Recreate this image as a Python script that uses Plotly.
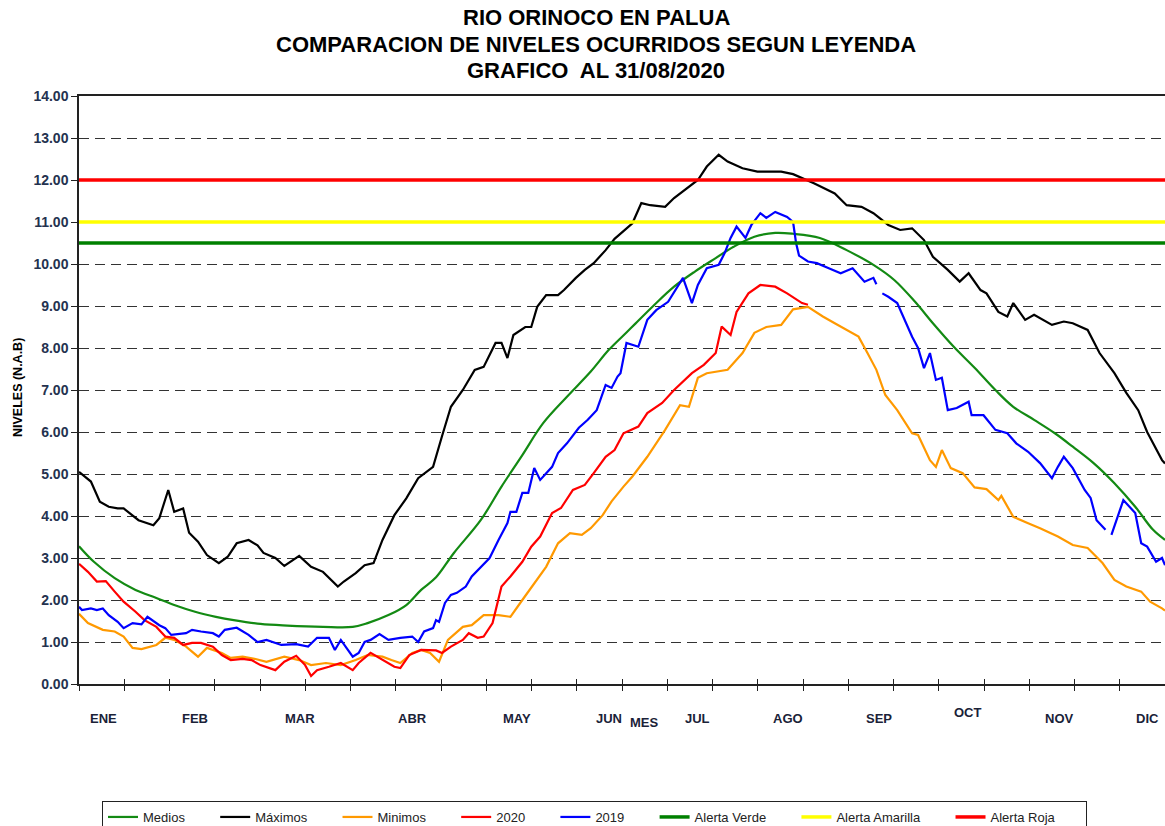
import plotly.graph_objects as go

# ---------------- data ----------------
medios_days = [0, 5, 12, 19, 26, 32, 39, 46, 52, 61, 70, 82, 92, 97, 104, 110, 115, 120, 126, 135,
               142, 149, 156, 164, 172, 178, 184, 187, 193, 200, 207, 214, 220, 227, 234, 240, 249,
               258, 267, 274, 281, 287, 294, 301, 308, 314, 321, 328, 334, 341, 348, 355, 361, 365]
medios_vals = [3.28, 2.91, 2.52, 2.24, 2.05, 1.88, 1.72, 1.60, 1.52, 1.43, 1.39, 1.36, 1.36, 1.45,
               1.64, 1.88, 2.24, 2.54, 3.12, 3.90, 4.70, 5.45, 6.21, 6.84, 7.44, 7.95, 8.37, 8.58,
               9.00, 9.46, 9.82, 10.14, 10.41, 10.65, 10.74, 10.72, 10.62, 10.33, 9.98, 9.62, 9.10,
               8.59, 8.03, 7.53, 7.00, 6.60, 6.29, 5.97, 5.65, 5.26, 4.78, 4.22, 3.67, 3.43]

maximos_days = [0, 4, 7, 10, 13, 15, 20, 25, 27, 30, 32, 35, 37, 40, 43, 47, 50, 53, 57, 60, 62, 66,
                69, 74, 78, 82, 87, 89, 93, 96, 99, 102, 106, 110, 114, 119, 122, 125, 129, 133, 136,
                140, 142, 144, 146, 150, 152, 154, 157, 161, 163, 167, 170, 173, 177, 180, 186, 189,
                192, 197, 200, 205, 208, 211, 215, 218, 223, 228, 236, 240, 247, 254, 258, 263, 267,
                272, 276, 280, 284, 287, 292, 296, 299, 303, 305, 309, 312, 314, 318, 321, 327, 331,
                334, 339, 343, 348, 352, 356, 359, 361, 364, 365]
maximos_vals = [5.05, 4.82, 4.34, 4.22, 4.18, 4.18, 3.90, 3.78, 3.95, 4.62, 4.10, 4.18, 3.60, 3.39,
                3.07, 2.88, 3.03, 3.35, 3.43, 3.30, 3.12, 3.00, 2.81, 3.05, 2.79, 2.67, 2.32, 2.44,
                2.64, 2.83, 2.88, 3.43, 4.02, 4.42, 4.90, 5.17, 5.90, 6.60, 7.00, 7.48, 7.55, 8.12,
                8.12, 7.76, 8.31, 8.50, 8.50, 8.98, 9.26, 9.26, 9.38, 9.67, 9.86, 10.02, 10.33, 10.60,
                10.97, 11.45, 11.40, 11.36, 11.57, 11.84, 12.00, 12.32, 12.60, 12.44, 12.28, 12.20,
                12.20, 12.14, 11.92, 11.68, 11.40, 11.36, 11.21, 10.93, 10.81, 10.85, 10.57, 10.17,
                9.86, 9.58, 9.78, 9.38, 9.30, 8.86, 8.75, 9.07, 8.67, 8.79, 8.55, 8.63, 8.59, 8.43,
                7.88, 7.40, 6.93, 6.52, 6.00, 5.73, 5.33, 5.25]

minimos_days = [0, 3, 8, 12, 15, 18, 21, 26, 29, 32, 36, 40, 43, 48, 51, 55, 59, 63, 69, 74, 78, 83,
                88, 93, 97, 102, 105, 108, 112, 115, 118, 121, 124, 129, 132, 136, 141, 145, 149, 153,
                157, 161, 165, 169, 172, 176, 179, 183, 186, 191, 197, 202, 205, 208, 211, 218, 223,
                227, 231, 236, 240, 245, 250, 254, 258, 262, 265, 268, 271, 275, 280, 282, 286, 288,
                290, 293, 297, 301, 305, 309, 310, 314, 319, 323, 329, 334, 339, 344, 348, 352, 357,
                360, 364, 365]
minimos_vals = [1.67, 1.45, 1.29, 1.25, 1.13, 0.86, 0.83, 0.93, 1.10, 1.05, 0.89, 0.65, 0.86, 0.74,
                0.62, 0.65, 0.60, 0.53, 0.65, 0.57, 0.45, 0.50, 0.45, 0.57, 0.69, 0.65, 0.57, 0.50,
                0.74, 0.81, 0.74, 0.53, 1.05, 1.36, 1.40, 1.64, 1.64, 1.60, 2.00, 2.40, 2.79, 3.35,
                3.59, 3.55, 3.71, 4.02, 4.35, 4.70, 4.94, 5.41, 6.05, 6.64, 6.60, 7.29, 7.40, 7.48,
                7.88, 8.36, 8.50, 8.55, 8.92, 8.98, 8.75, 8.59, 8.43, 8.27, 7.88, 7.48, 6.88, 6.52,
                5.97, 5.93, 5.33, 5.17, 5.57, 5.14, 5.02, 4.68, 4.64, 4.38, 4.48, 3.98, 3.83, 3.71,
                3.51, 3.31, 3.24, 2.88, 2.48, 2.32, 2.20, 1.96, 1.80, 1.75]

y2020_days = [0, 3, 6, 9, 12, 15, 19, 22, 26, 29, 32, 35, 38, 41, 45, 48, 51, 55, 58, 61, 66, 69, 73,
              76, 78, 80, 84, 88, 92, 94, 98, 102, 106, 108, 111, 115, 120, 122, 125, 129, 131, 134,
              136, 139, 142, 145, 149, 152, 155, 159, 162, 166, 170, 173, 177, 180, 183, 188, 191,
              196, 200, 206, 210, 214, 216, 219, 221, 225, 229, 234, 238, 243, 245]
y2020_vals = [2.86, 2.67, 2.44, 2.45, 2.20, 1.96, 1.72, 1.52, 1.36, 1.13, 1.10, 0.93, 0.98, 0.98,
              0.89, 0.69, 0.57, 0.60, 0.57, 0.45, 0.33, 0.53, 0.67, 0.45, 0.19, 0.33, 0.41, 0.50,
              0.33, 0.50, 0.74, 0.57, 0.41, 0.38, 0.69, 0.81, 0.80, 0.74, 0.89, 1.05, 1.21, 1.10,
              1.13, 1.45, 2.32, 2.56, 2.91, 3.27, 3.51, 4.07, 4.19, 4.62, 4.74, 5.02, 5.41, 5.57,
              5.97, 6.13, 6.45, 6.69, 7.00, 7.40, 7.60, 7.88, 8.51, 8.31, 8.86, 9.30, 9.50, 9.46,
              9.30, 9.07, 9.03]

y2019_days = [0, 1, 4, 6, 8, 10, 13, 15, 18, 21, 23, 27, 29, 31, 36, 38, 41, 45, 47, 49, 53, 57, 60,
              63, 68, 73, 77, 80, 84, 86, 88, 90, 92, 94, 96, 98, 101, 104, 108, 112, 114, 116, 119,
              120, 121, 123, 125, 127, 130, 132, 135, 138, 141, 144, 145, 147, 149, 151, 153, 155,
              159, 161, 164, 168, 171, 174, 177, 179, 181, 182, 184, 188, 191, 194, 198, 201, 203,
              206, 208, 211, 215, 217, 219, 221, 224, 226, 229, 231, 234, 238, 240, 241, 242, 245,
              248, 252, 256, 260, 264, 267, 268, 269, 270, 272, 275, 277, 280, 282, 284, 286, 288,
              290, 292, 295, 299, 300, 304, 308, 312, 315, 319, 323, 327, 329, 331, 334, 338, 340,
              342, 345, 346, 347, 351, 355, 357, 359, 362, 364, 365]
y2019_vals = [1.84, 1.76, 1.80, 1.76, 1.80, 1.64, 1.48, 1.33, 1.45, 1.42, 1.60, 1.40, 1.33, 1.17,
              1.21, 1.29, 1.25, 1.21, 1.13, 1.29, 1.34, 1.17, 1.00, 1.05, 0.93, 0.95, 0.89, 1.10,
              1.10, 0.81, 1.05, 0.86, 0.65, 0.74, 1.00, 1.05, 1.19, 1.05, 1.10, 1.13, 1.00, 1.25,
              1.33, 1.52, 1.48, 1.93, 2.12, 2.17, 2.32, 2.56, 2.79, 3.00, 3.43, 3.83, 4.10, 4.10,
              4.55, 4.55, 5.14, 4.86, 5.17, 5.50, 5.73, 6.10, 6.29, 6.52, 7.12, 7.05, 7.32, 7.40,
              8.12, 8.03, 8.67, 8.90, 9.10, 9.43, 9.67, 9.07, 9.50, 9.90, 9.98, 10.26, 10.62, 10.89,
              10.62, 10.93, 11.21, 11.10, 11.24, 11.12, 11.00, 10.50, 10.20, 10.06, 10.02, 9.90,
              9.78, 9.90, 9.58, 9.67, 9.52, None, 9.30, 9.22, 9.07, 8.75, 8.27, 8.00, 7.52, 7.88,
              7.24, 7.29, 6.52, 6.57, 6.72, 6.40, 6.40, 6.05, 5.97, 5.73, 5.53, 5.26, 4.90, 5.17,
              5.41, 5.14, 4.62, 4.43, 3.90, 3.67, None, 3.55, 4.38, 4.07, 3.35, 3.27, 2.91, 3.00,
              2.83]

alert_names = ["Alerta Verde", "Alerta Amarilla", "Alerta Roja"]
alert_levels = [10.5, 11.0, 12.0]

title_lines = ["RIO ORINOCO EN PALUA",
               "COMPARACION DE NIVELES OCURRIDOS SEGUN LEYENDA",
               "GRAFICO  AL 31/08/2020"]

month_labels = ["ENE", "FEB", "MAR", "ABR", "MAY", "JUN", "JUL", "AGO", "SEP", "OCT", "NOV", "DIC"]
month_label_days = [8.2, 39.1, 74.2, 112.2, 147.1, 178.0, 208.0, 238.4, 269.0, 298.7, 329.4, 359.0]

y_ticks = list(range(0, 15))
x_tick_days = [k * 365 / 24 for k in range(25)]

for d, v in [(medios_days, medios_vals), (maximos_days, maximos_vals), (minimos_days, minimos_vals),
             (y2020_days, y2020_vals), (y2019_days, y2019_vals)]:
    assert len(d) == len(v), (len(d), len(v))

# ---------------- figure ----------------
FONT = "Arial, 'Liberation Sans', sans-serif"
W, H = 1165, 826
L, R, T, B = 79, 0, 96, 142
PW, PH = W - L - R, H - T - B
XMIN, XMAX = 0, 365


def px_x(px):  # page pixel -> paper x
    return (px - L) / PW


def px_y(py):  # page pixel -> paper y
    return (H - B - py) / PH


fig = go.Figure()

NB = "\u00a0"
PAD = NB * 7
series = [
    ("Medios", medios_days, medios_vals, "#138a13", "spline"),
    ("Máximos", maximos_days, maximos_vals, "#000000", "linear"),
    ("Minimos", minimos_days, minimos_vals, "#ff9900", "linear"),
    ("2020", y2020_days, y2020_vals, "#ff0000", "linear"),
    ("2019", y2019_days, y2019_vals, "#0000ff", "linear"),
]
for name, d, v, c, shape in series:
    fig.add_trace(go.Scatter(x=d, y=v, name=name + PAD, mode="lines",
                             line=dict(color=c, width=2.2, shape=shape),
                             connectgaps=False, hoverinfo="skip"))

alert_colors = ["#008000", "#ffff00", "#ff0000"]
for name, lvl, c in zip(alert_names, alert_levels, alert_colors):
    fig.add_trace(go.Scatter(x=[XMIN, XMAX], y=[lvl, lvl], name=name + PAD, mode="lines",
                             line=dict(color=c, width=3.5), hoverinfo="skip"))

# invisible helper trace for the overlay axis (ticks crossing the x axis line)
fig.add_trace(go.Scatter(x=[XMIN, XMAX], y=[0, 0], xaxis="x2", mode="lines",
                         line=dict(width=0, color="rgba(0,0,0,0)"), showlegend=False,
                         hoverinfo="skip"))

# title lines
for line, ypix in zip(title_lines, [18, 45, 71]):
    fig.add_annotation(x=px_x(596), y=px_y(ypix), xref="paper", yref="paper", text=line,
                       showarrow=False, xanchor="center", yanchor="middle",
                       font=dict(family=FONT, size=22, color="#000000", weight="bold"))

# month labels
LAB_FONT = dict(family=FONT, size=13, color="#1a2238", weight="bold")
for lab, d in zip(month_labels, month_label_days):
    ypix = 713 if lab == "OCT" else 718
    fig.add_annotation(x=d, y=px_y(ypix), xref="x", yref="paper", text=lab,
                       showarrow=False, font=LAB_FONT, xanchor="center", yanchor="middle")
fig.add_annotation(x=190.1, y=px_y(722), xref="x", yref="paper", text="MES",
                   showarrow=False, font=LAB_FONT, xanchor="center", yanchor="middle")

# y axis title
fig.add_annotation(x=px_x(18), y=px_y(388), xref="paper", yref="paper",
                   text="NIVELES (N.A.B)", textangle=-90, showarrow=False,
                   font=dict(family=FONT, size=12.5, color="#000000", weight="bold"),
                   xanchor="center", yanchor="middle")

fig.update_layout(
    width=W, height=H,
    margin=dict(l=L, r=R, t=T, b=B, pad=0, autoexpand=False),
    paper_bgcolor="white", plot_bgcolor="white",
    xaxis=dict(range=[XMIN, XMAX], tickvals=x_tick_days, showticklabels=False,
               ticks="outside", ticklen=5, tickwidth=1.3, tickcolor="#222",
               showgrid=False, zeroline=False, showline=True, linecolor="#222", linewidth=1.5,
               mirror=True),
    xaxis2=dict(range=[XMIN, XMAX], overlaying="x", anchor="y", tickvals=x_tick_days,
                showticklabels=False, ticks="inside", ticklen=5, tickwidth=1.3, tickcolor="#222",
                showgrid=False, zeroline=False, showline=False),
    yaxis=dict(range=[0, 14], tickvals=y_ticks, ticktext=[f"{t:.2f}" for t in y_ticks],
               tickfont=dict(family=FONT, size=14, color="#24324f", weight="bold"),
               ticks="outside", ticklen=6, tickcolor="#222", tickwidth=1.3,
               showgrid=True, gridcolor="#333", gridwidth=1, griddash="10px,6px",
               zeroline=False, showline=True, linecolor="#222", linewidth=1.5),
    legend=dict(orientation="h", x=px_x(102), y=px_y(801),
                xanchor="left", yanchor="top", bgcolor="white", bordercolor="#222", borderwidth=1,
                font=dict(family=FONT, size=13, color="#222"), itemwidth=30,
                tracegroupgap=0),
    showlegend=True,
)

fig.write_html("out.html", config={"displayModeBar": False},
               post_script="document.body.style.margin='0';document.body.style.padding='0';")
